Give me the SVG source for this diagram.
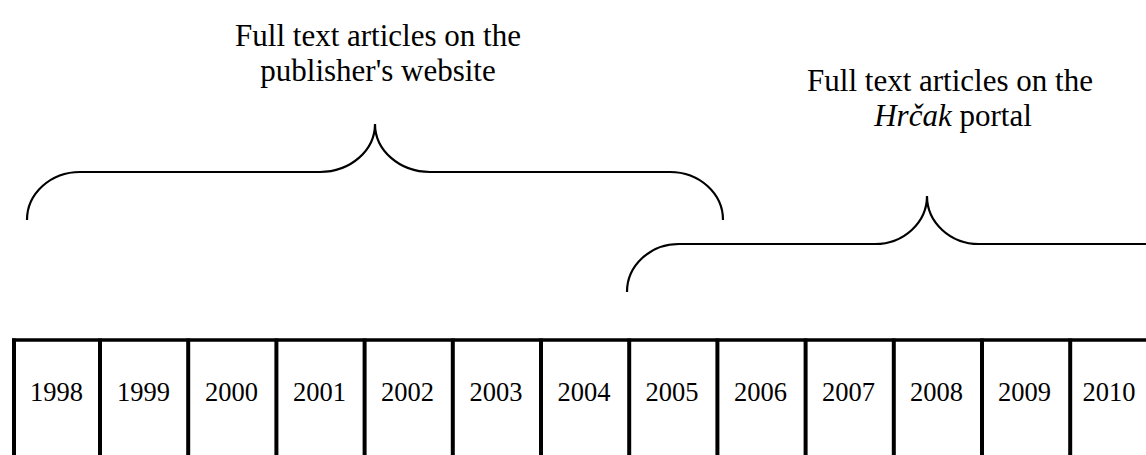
<svg xmlns="http://www.w3.org/2000/svg" width="1146" height="455" viewBox="0 0 1146 455">
<style>
.t{font-family:"Liberation Serif","Times New Roman",serif;font-size:31px;fill:#000;text-anchor:middle}
.y{font-family:"Liberation Serif","Times New Roman",serif;font-size:26.5px;fill:#000;text-anchor:middle}
.br{fill:none;stroke:#000;stroke-width:2.2}
.ln{stroke:#000;stroke-width:4}
</style>
<rect width="1146" height="455" fill="#fff"/>
<g id="label-publisher">
<text class="t" x="378" y="46">Full text articles on the</text>
<text class="t" x="378" y="81">publisher's website</text>
</g>
<g id="label-hrcak">
<text class="t" x="950" y="91">Full text articles on the</text>
<text class="t" x="953" y="126"><tspan font-style="italic">Hrčak</tspan> portal</text>
</g>
<g id="connectors">
<path id="brace-publisher" class="br" d="M27,220 A53,48 0 0 1 80,172 L320,172 A55,48 0 0 0 375,124 A55,48 0 0 0 430,172 L670,172 A53,48 0 0 1 723,220"/>
<path id="brace-hrcak" class="br" d="M627,292 A52,48 0 0 1 679,244 L875,244 A52,48 0 0 0 927,196 A52,48 0 0 0 979,244 L1175,244 A52,48 0 0 1 1227,292"/>
</g>
<g id="timeline">
<line x1="12" y1="340" x2="1146" y2="340" stroke="#000" stroke-width="3.5"/>
<line class="ln" x1="14" y1="338.5" x2="14" y2="455"/>
<line class="ln" x1="100" y1="338.5" x2="100" y2="455"/>
<line class="ln" x1="188.2" y1="338.5" x2="188.2" y2="455"/>
<line class="ln" x1="276.4" y1="338.5" x2="276.4" y2="455"/>
<line class="ln" x1="364.6" y1="338.5" x2="364.6" y2="455"/>
<line class="ln" x1="452.8" y1="338.5" x2="452.8" y2="455"/>
<line class="ln" x1="541" y1="338.5" x2="541" y2="455"/>
<line class="ln" x1="629.2" y1="338.5" x2="629.2" y2="455"/>
<line class="ln" x1="717.4" y1="338.5" x2="717.4" y2="455"/>
<line class="ln" x1="805.6" y1="338.5" x2="805.6" y2="455"/>
<line class="ln" x1="893.8" y1="338.5" x2="893.8" y2="455"/>
<line class="ln" x1="982" y1="338.5" x2="982" y2="455"/>
<line class="ln" x1="1070.2" y1="338.5" x2="1070.2" y2="455"/>
<text class="y" x="56.5" y="400.5">1998</text>
<text class="y" x="143.5" y="400.5">1999</text>
<text class="y" x="231.5" y="400.5">2000</text>
<text class="y" x="319.5" y="400.5">2001</text>
<text class="y" x="407.5" y="400.5">2002</text>
<text class="y" x="496" y="400.5">2003</text>
<text class="y" x="584" y="400.5">2004</text>
<text class="y" x="672" y="400.5">2005</text>
<text class="y" x="760.5" y="400.5">2006</text>
<text class="y" x="848.5" y="400.5">2007</text>
<text class="y" x="936.5" y="400.5">2008</text>
<text class="y" x="1024.5" y="400.5">2009</text>
<text class="y" x="1109" y="400.5">2010</text>
</g>
</svg>
